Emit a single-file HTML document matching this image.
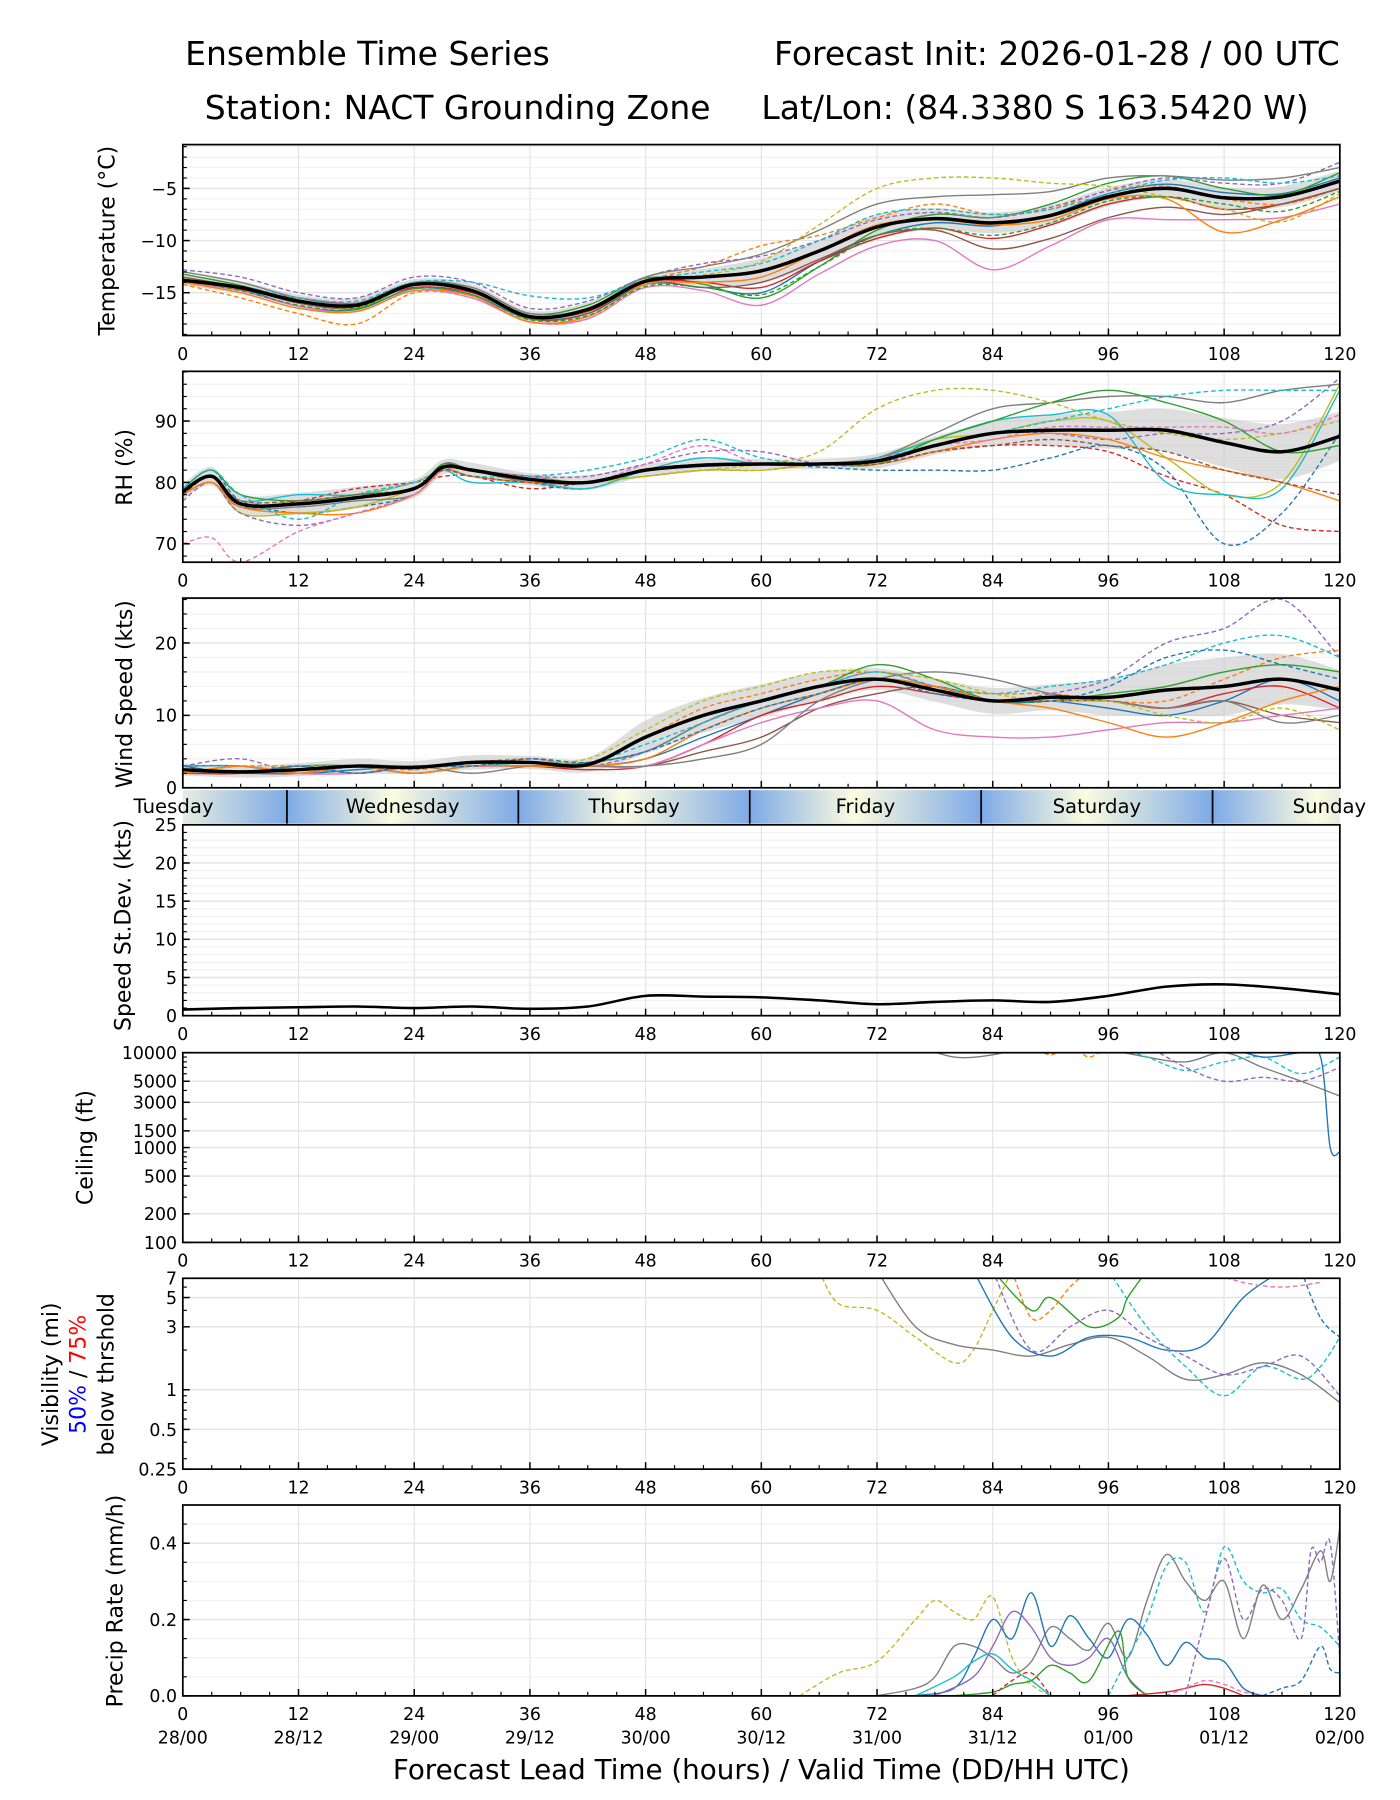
<!DOCTYPE html>
<html><head><meta charset="utf-8"><style>
html,body{margin:0;padding:0;background:#fff;}
svg{display:block;font-family:"DejaVu Sans","Liberation Sans",sans-serif;}
</style></head><body>
<svg id="chart" width="1400" height="1800" viewBox="0 0 1210 1556" preserveAspectRatio="none" xmlns="http://www.w3.org/2000/svg">
<defs>
<linearGradient id="dayg" x1="0" x2="1" y1="0" y2="0">
<stop offset="0" stop-color="#7eaae6"/><stop offset="0.45" stop-color="#fcfce0"/><stop offset="1" stop-color="#7eaae6"/>
</linearGradient>
</defs>
<g font-size="28.5" fill="#000">
<text x="160" y="56">Ensemble Time Series</text>
<text x="1158" y="56" text-anchor="end">Forecast Init: 2026-01-28 / 00 UTC</text>
<text x="177" y="103">Station: NACT Grounding Zone</text>
<text x="658" y="103">Lat/Lon: (84.3380 S 163.5420 W)</text>
</g>
<g id="layer"></g>
</svg>
<script>
// ---------- DATA ----------
const H6 = [0,6,12,18,24,30,36,42,48,54,60,66,72,78,84,90,96,102,108,114,120];
const tempMean = [-13.8,-14.5,-15.8,-16.2,-14.2,-14.8,-17.3,-16.6,-13.9,-13.5,-12.9,-11.0,-8.7,-7.9,-8.3,-7.6,-5.8,-5.0,-5.9,-5.8,-4.3];
const tempSpread = [0.5,0.6,0.6,0.7,0.5,0.6,0.6,0.7,0.5,0.8,1.2,1.1,1.2,1.0,1.0,1.0,0.9,0.9,1.0,1.0,1.0];
const tempMembers = [
[-13.5,-14.6,-16.3,-16.6,-14.6,-15.2,-17.5,-17.0,-14.2,-14.5,-15.0,-12.0,-9.5,-8.3,-8.6,-7.5,-5.5,-4.6,-5.4,-5.5,-4.0],
[-14.2,-15.5,-17.0,-18.0,-15.0,-15.5,-17.8,-17.5,-14.0,-12.5,-10.5,-9.5,-7.8,-6.5,-7.5,-7.0,-5.2,-4.8,-6.0,-6.5,-5.0],
[-13.2,-14.3,-15.7,-16.5,-14.2,-14.5,-17.0,-16.2,-13.6,-14.2,-15.5,-12.5,-9.0,-7.5,-7.8,-6.5,-4.5,-3.8,-5.0,-5.6,-3.5],
[-13.8,-14.7,-15.5,-16.0,-14.5,-15.0,-17.3,-16.8,-14.0,-14.0,-14.5,-12.0,-9.8,-8.8,-9.8,-8.5,-6.5,-5.8,-7.0,-6.5,-5.0],
[-12.8,-13.5,-15.0,-15.5,-13.5,-14.0,-16.5,-15.8,-13.5,-12.2,-11.5,-10.0,-8.0,-7.3,-7.8,-6.8,-5.2,-4.0,-4.5,-4.5,-2.5],
[-13.5,-14.5,-16.0,-16.4,-14.2,-14.7,-17.5,-17.0,-14.0,-14.5,-14.0,-11.8,-9.5,-9.0,-10.8,-9.8,-7.8,-6.8,-7.5,-6.5,-5.0],
[-14.0,-14.8,-16.3,-16.8,-14.8,-15.5,-17.8,-17.5,-14.5,-14.8,-16.2,-13.2,-10.5,-10.0,-12.8,-10.5,-8.0,-8.0,-8.0,-7.8,-6.5],
[-13.0,-14.0,-15.5,-16.0,-14.0,-14.5,-17.0,-16.5,-13.5,-12.5,-11.3,-9.0,-6.5,-5.8,-5.6,-5.3,-4.0,-3.8,-4.2,-4.0,-3.0],
[-13.6,-14.6,-15.8,-16.4,-14.3,-14.7,-17.2,-16.6,-13.8,-13.3,-12.0,-8.5,-5.0,-4.0,-4.0,-4.5,-4.8,-5.8,-7.0,-8.2,-5.5],
[-13.8,-14.4,-15.5,-15.8,-14.0,-14.0,-15.3,-15.5,-13.8,-13.0,-12.2,-10.0,-7.5,-7.0,-7.5,-7.0,-5.5,-4.2,-4.0,-4.5,-3.8],
[-14.0,-15.0,-16.5,-16.8,-14.8,-15.3,-17.8,-17.3,-14.2,-14.0,-13.5,-11.0,-8.5,-8.0,-8.5,-8.0,-6.0,-6.0,-9.2,-8.0,-5.8],
[-13.8,-14.8,-16.2,-16.6,-14.6,-15.2,-17.6,-17.2,-14.4,-14.5,-15.2,-12.5,-9.5,-8.8,-9.5,-8.3,-6.2,-5.8,-6.5,-7.2,-5.3]
];
const rhHours = [0,3,6,12,18,24,27,30,36,42,48,54,60,66,72,78,84,90,96,102,108,114,120];
const rhMean = [78.5,81,76.5,76.5,77.5,79,82.5,82,80.5,80,82,82.8,83,83,83.5,86,88,88.5,88.5,88.5,86.5,85,87.5];
const rhSpread = [1.2,1.5,1.5,1.8,1.8,1.5,1.2,1.2,1.0,1.2,1.0,1.0,0.8,0.8,1.2,1.5,2.0,2.5,3.0,3.5,4.0,4.5,4.0];
const rhMembers = [
[79,82,77,75,76,78,83,82,80,79,82,83,83,82.5,82,82,82,84,86,82,70,75,88],
[78,80,76,77,79,80,81,81,79,80,81,82,82,83,83,85,86,86,85,81,78,73,72],
[78,81,75,75,76,79,82,82,80,80,81,82,82,83,84,87,88,90,90,84,78,80,96],
[79,81,77,78,78,80,82,80,80,79,82,84,83,83,84,87,90,91,91,80,78,79,95],
[78,80,76,76,77,78,83,82,80,80,82,83,83,83,84,88,92,93,94,94,93,95,96],
[77,80,75,73,75,78,82,82,81,81,83,85,85,83,83,86,88,88,87,88,88,90,97],
[79,82,78,77,78,79,83,82,81,80,82,83,83,83,83,87,90,93,95,93,90,85,86],
[78,81,77,77,78,80,82,81,80,80,81,82,83,85,92,95,95,93,90,88,87,88,90],
[78,80,76,75,75,78,82,81,80,80,82,83,83,83,83,85,87,88,87,84,82,80,77],
[70,71,67,72,75,78,82,82,81,80,83,86,83,83,84,86,87,89,89,89,89,88,91],
[79,82,78,74,78,80,82,81,81,82,84,87,84,83,84,86,88,90,92,94,95,95,95],
[78,81,77,77,78,79,82,81,80,80,82,83,83,83,83,85,86,87,86,85,82,80,78]
];
const windMean = [2.5,2.2,2.5,3.0,2.8,3.5,3.5,3.2,7.0,10.0,12.0,14.0,15.0,13.5,12.0,12.5,12.5,13.5,14.0,15.0,13.5];
const windSpread = [0.8,0.8,0.9,1.0,0.9,1.0,0.9,1.0,2.3,2.4,2.3,2.0,1.5,1.6,1.8,1.8,2.5,3.5,4.0,3.5,2.8];
const windMembers = [
[3,3,2,2.5,3,3,3.5,3,4,7,10,13,15,14,12,12,11,10,12,15,12],
[2,3,3,3,2.5,3.5,4,3.5,7,11,13,15,16,14,13,13,12,12,15,18,19],
[3,2,3,3,2,3,3,3.5,5,9,12,14,17,15,12,12,13,14,16,17,16],
[2,2,3,2,3,3,3,2.5,3,6,10,12,14,13,12,12,12,11,13,14,11],
[3,4,2,3,3,3,4,3,5,9,12,14,16,14,12,13,15,20,22,26,18],
[2,2,2,3,2,3,3,3,3,5,7,11,13,14,12,12,12,11,12,10,9],
[2,3,2,2,3,3,3,3,3,6,9,11,12,8,7,7,8,9,9,10,11],
[3,2,3,2,3,2,3,3,3,4,6,12,15,16,15,13,12,11,12,9,10],
[2,3,3,3,3,3,3.5,4,8,12,14,16,16,15,13,12,12,10,9,11,8],
[3,3,2,3,3,3,3.5,3.5,6,9,12,14,16,14,13,14,15,17,20,21,18],
[2,3,2,3,2,3,3,3,4,8,11,13,15,14,12,11,9,7,9,12,14],
[3,2,3,2,3,3,4,3.5,5,8,11,13,15,13,12,12,14,18,19,17,15]
];
const stdevValues = [0.8,1.0,1.1,1.2,1.0,1.2,0.9,1.2,2.6,2.5,2.4,2.0,1.5,1.8,2.0,1.8,2.6,3.8,4.1,3.6,2.8];
const ceilHours = [[76,80,84,88,92,96,100,104,108,112,116,120],[96,100,104,108,112,116,120],[100,104,108,112,116,120],[108,112,116,118,119,120],[88,90,92,94,96]];
const ceilValues = [[12000,9000,9500,12000,15000,11000,9000,8000,10000,7000,5000,3500],[12000,9000,6500,8000,9000,6000,9000],[12000,7000,5000,5500,5000,7000],[12000,9000,10000,9000,1000,900],[12000,9500,12000,9000,12000]];
const visHours = [[66,68,72,76,80,82,84,86],[72,76,80,84,88,92,96,100,104,108,112,116,120],[82,86,90,94,98,102,106,110,114],[96,100,104,108,112,116,118,120],[84,88,92,96,100,104,108,112,116,120],[84,88,90,94,97,98,100],[86,88,90,92,94],[116,118,120],[106,110,114,118]];
const visValues = [[8,4.5,4,2.5,1.6,2,4,8],[8,3,2.2,2,1.8,2.2,2.5,1.8,1.2,1.3,1.6,1.3,0.8],[8,2.5,1.8,2.5,2.5,2,2.2,5,8],[8,3,1.5,0.9,1.5,1.2,1.5,2.5],[8,2,3,4,2.5,1.8,1.3,1.5,1.8,0.9],[8,4,5,3,3.5,5,8],[8,3.5,4,6,8],[8,3.5,2.5],[8,6.5,6,6.5]];
const precipHours = [[64,68,72,76,78,80,82,84,86,88,90],[72,76,78,80,82,84,86,88,90,92,94,96,98,100,102,104,106,108,110,112,114,116,118,119,120],[76,80,82,84,86,88,90,92,94,96,98,100,102,104,106,108,110,112],[78,82,84,86,88,90,92,94,96,98,100],[76,80,82,84,86,88,90],[80,84,86,88,90,92,94,97,98,100],[96,98,100,102,104,106,108,110,112,114,116,118,120],[104,106,108,110,112,114,116,117,118,119,120],[112,114,116,118,119,120],[98,102,104,106,108,110],[102,104,106,108,110,112],[84,86,88,90]];
const precipValues = [[0,0.06,0.09,0.2,0.25,0.22,0.2,0.26,0.1,0.03,0],[0,0.02,0.05,0.13,0.13,0.1,0.06,0.09,0.18,0.15,0.12,0.19,0.1,0.25,0.37,0.3,0.25,0.3,0.15,0.29,0.2,0.28,0.38,0.3,0.44],[0,0.02,0.1,0.2,0.15,0.27,0.13,0.21,0.15,0.1,0.2,0.16,0.08,0.14,0.1,0.09,0.02,0],[0,0.05,0.13,0.22,0.18,0.1,0.08,0.1,0.15,0.05,0],[0,0.05,0.09,0.11,0.07,0.04,0],[0,0.01,0.03,0.04,0.08,0.06,0.04,0.17,0.05,0],[0,0.1,0.2,0.34,0.35,0.22,0.39,0.3,0.27,0.28,0.2,0.18,0.13],[0,0.2,0.36,0.2,0.28,0.25,0.15,0.38,0.35,0.4,0.1],[0,0.02,0.04,0.13,0.07,0.06],[0,0.01,0.02,0.03,0.02,0],[0,0.02,0.04,0.03,0.01,0],[0,0.04,0.06,0]];
const xTicks = [0,12,24,36,48,60,72,84,96,108,120];
const dateLabels = ["28/00","28/12","29/00","29/12","30/00","30/12","31/00","31/12","01/00","01/12","02/00"];
const dayNames = ["Tuesday","Wednesday","Thursday","Friday","Saturday","Sunday"];
const dayBoundaries = [-13.2,10.8,34.8,58.8,82.8,106.8,130.8];

// ---------- STYLE ----------
const tempStyle = [["#1f77b4",0],["#ff7f0e",1],["#2ca02c",0],["#d62728",0],["#9467bd",1],["#8c564b",0],["#e377c2",0],["#7f7f7f",0],["#bcbd22",1],["#17becf",1],["#ff7f0e",0],["#2ca02c",1]];
const rhStyle = [["#1f77b4",1],["#d62728",1],["#bcbd22",0],["#17becf",0],["#7f7f7f",0],["#9467bd",1],["#2ca02c",0],["#bcbd22",1],["#ff7f0e",0],["#e377c2",1],["#17becf",1],["#8c564b",1]];
const windStyle = [["#1f77b4",0],["#ff7f0e",1],["#2ca02c",0],["#d62728",0],["#9467bd",1],["#8c564b",0],["#e377c2",0],["#7f7f7f",0],["#bcbd22",1],["#17becf",1],["#ff7f0e",0],["#1f77b4",1]];
const ceilStyle = [["#7f7f7f",0],["#17becf",1],["#9467bd",1],["#1f77b4",0],["#ff7f0e",1]];
const visStyle = [["#bcbd22",1],["#7f7f7f",0],["#1f77b4",0],["#17becf",1],["#9467bd",1],["#2ca02c",0],["#ff7f0e",1],["#1f77b4",1],["#e377c2",1]];
const precipStyle = [["#bcbd22",1],["#7f7f7f",0],["#1f77b4",0],["#9467bd",0],["#17becf",0],["#2ca02c",0],["#17becf",1],["#9467bd",1],["#1f77b4",1],["#d62728",0],["#e377c2",1],["#d62728",1]];

const NS="http://www.w3.org/2000/svg";
const layer=document.getElementById('layer');
const X0=158,X1=1158;
function xs(h){return X0+(h/120)*(X1-X0);}
function mk(tag,attrs,parent){const e=document.createElementNS(NS,tag);for(const k in attrs)e.setAttribute(k,attrs[k]);(parent||layer).appendChild(e);return e;}
function makeY(p){
  if(p.log){const a=Math.log10(p.min),b=Math.log10(p.max);return v=>p.bottom-(Math.log10(v)-a)/(b-a)*(p.bottom-p.top);}
  return v=>p.bottom-(v-p.min)/(p.max-p.min)*(p.bottom-p.top);
}
function smooth(pts){
  if(pts.length<2)return "";
  let d="M"+pts[0][0].toFixed(2)+","+pts[0][1].toFixed(2);
  for(let i=0;i<pts.length-1;i++){
    const p0=pts[i-1]||pts[i],p1=pts[i],p2=pts[i+1],p3=pts[i+2]||p2;
    const c1=[p1[0]+(p2[0]-p0[0])/6,p1[1]+(p2[1]-p0[1])/6];
    const c2=[p2[0]-(p3[0]-p1[0])/6,p2[1]-(p3[1]-p1[1])/6];
    d+="C"+c1[0].toFixed(2)+","+c1[1].toFixed(2)+" "+c2[0].toFixed(2)+","+c2[1].toFixed(2)+" "+p2[0].toFixed(2)+","+p2[1].toFixed(2);
  }
  return d;
}
let clipId=0;
function panel(p){
  const g=mk('g',{});
  
  
  const y=makeY(p);
  const cid='clip'+(clipId++);
  const cp=mk('clipPath',{id:cid},g);mk('rect',{x:X0,y:p.top,width:X1-X0,height:p.bottom-p.top},cp);
  (p.minor||[]).forEach(v=>{const yy=y(v);mk('line',{x1:X0,x2:X1,y1:yy,y2:yy,stroke:'#f1f1f1','stroke-width':1},g);});
  xTicks.forEach(h=>{mk('line',{x1:xs(h),x2:xs(h),y1:p.top,y2:p.bottom,stroke:'#e3e3e3','stroke-width':1},g);});
  p.ticks.forEach(v=>{const yy=y(v);mk('line',{x1:X0,x2:X1,y1:yy,y2:yy,stroke:'#e3e3e3','stroke-width':1.2},g);});
  const dg=mk('g',{'clip-path':'url(#'+cid+')'},g);
  p.g=dg;p.y=y;
  const fr=mk('rect',{x:X0,y:p.top,width:X1-X0,height:p.bottom-p.top,fill:'none',stroke:'#000','stroke-width':1.5},g);
  
  
  for(let h=0;h<=120;h+=3){const maj=h%12===0;const xx=xs(h);mk('line',{x1:xx,x2:xx,y1:p.bottom,y2:p.bottom-(maj?6:3.5),stroke:'#000','stroke-width':maj?1.3:1},g);}
  if(!p.noXLabels){
    const xl=mk('g',{'font-size':'15','text-anchor':'middle'},g);
    
    
    xTicks.forEach(h=>{const t=mk('text',{x:xs(h),y:p.bottom+21},xl);t.textContent=String(h);});
  }
  (p.minor||[]).concat(p.logMinor||[]).forEach(v=>{const yy=y(v);mk('line',{x1:X0,x2:X0+3.5,y1:yy,y2:yy,stroke:'#000','stroke-width':1},g);});
  const yl=mk('g',{'font-size':'15','text-anchor':'end'},g);
  
  
  p.ticks.forEach((v,i)=>{const yy=y(v);mk('line',{x1:X0,x2:X0+6,y1:yy,y2:yy,stroke:'#000','stroke-width':1.3},g);const t=mk('text',{x:X0-5,y:yy+5.5},yl);t.textContent=p.tickLabels[i];});
  return p;
}
function line(p,hours,vals,color,dashed,w,name){
  const pts=hours.map((h,i)=>[xs(h),p.y(vals[i])]);
  const e=mk('path',{d:smooth(pts),fill:'none',stroke:color,'stroke-width':w||1.2,'stroke-dasharray':dashed?'4,2.5':'none','stroke-linejoin':'round'},p.g);
  
  
  return e;
}
function band(p,hours,mean,spread,name){
  const up=hours.map((h,i)=>[xs(h),p.y(mean[i]+spread[i])]);
  const lo=hours.map((h,i)=>[xs(h),p.y(mean[i]-spread[i])]).reverse();
  const d=smooth(up)+"L"+smooth(lo).slice(1)+"Z";
  const e=mk('path',{d:d,fill:'#c8c8c8','fill-opacity':0.6,stroke:'none'},p.g);
  
  
}
function ylabel(x,y,lines){
  const t=mk('text',{x:x,y:y,'font-size':'19','text-anchor':'middle',transform:'rotate(-90 '+x+' '+y+')'});
  
  
  lines.forEach(s=>{const ts=mk('tspan',{fill:s[1]||'#000'},t);ts.textContent=s[0];});
  return t;
}
function range(a,b,s){const r=[];for(let v=a;v<=b+1e-9;v+=s)r.push(+v.toFixed(4));return r;}

const pT=panel({name:'temperature',top:125,bottom:290,min:-19.1,max:-0.8,ticks:[-5,-10,-15],tickLabels:['−5','−10','−15'],minor:range(-19,-1,1)});
band(pT,H6,tempMean,tempSpread,'temperature-spread-band');
tempMembers.forEach((m,i)=>line(pT,H6,m,tempStyle[i][0],tempStyle[i][1],1.2,'temperature-member-'+(i+1)));
line(pT,H6,tempMean,'#000',0,3,'temperature-ensemble-mean');
ylabel(99,208,[['Temperature (°C)']]);

const pR=panel({name:'rh',top:321,bottom:486,min:67,max:98.1,ticks:[70,80,90],tickLabels:['70','80','90'],minor:range(68,98,2)});
band(pR,rhHours,rhMean,rhSpread,'rh-spread-band');
rhMembers.forEach((m,i)=>line(pR,rhHours,m,rhStyle[i][0],rhStyle[i][1],1.2,'rh-member-'+(i+1)));
line(pR,rhHours,rhMean,'#000',0,3,'rh-ensemble-mean');
ylabel(114,404,[['RH (%)']]);

const pW=panel({name:'wind-speed',top:517,bottom:681,min:0,max:26.2,ticks:[0,10,20],tickLabels:['0','10','20'],minor:range(2,26,2),noXLabels:true});
band(pW,H6,windMean,windSpread,'wind-spread-band');
windMembers.forEach((m,i)=>line(pW,H6,m,windStyle[i][0],windStyle[i][1],1.2,'wind-member-'+(i+1)));
line(pW,H6,windMean,'#000',0,3,'wind-ensemble-mean');
ylabel(114,600,[['Wind Speed (kts)']]);

(function(){
  const g=mk('g',{});
  
  
  const cp=mk('clipPath',{id:'dayclip'},g);mk('rect',{x:X0,y:683,width:X1-X0,height:29},cp);
  const gg=mk('g',{'clip-path':'url(#dayclip)'},g);
  for(let i=0;i<dayNames.length;i++){
    const a=xs(dayBoundaries[i]),b=xs(dayBoundaries[i+1]);
    mk('rect',{x:a,y:683,width:b-a,height:29,fill:'url(#dayg)'},gg);
  }
  for(let i=1;i<dayNames.length;i++){const xx=xs(dayBoundaries[i]);mk('line',{x1:xx,x2:xx,y1:683,y2:712,stroke:'#000','stroke-width':1.5},g);}
  dayNames.forEach((n,i)=>{
    const c=i===0?150:(i===dayNames.length-1?1149:(xs(dayBoundaries[i])+xs(dayBoundaries[i+1]))/2);
    const t=mk('text',{x:c,y:703,'font-size':'17','text-anchor':'middle'},g);t.textContent=n;
    
    
  });
})();

const pS=panel({name:'speed-stdev',top:713,bottom:878,min:0,max:25,ticks:[0,5,10,15,20,25],tickLabels:['0','5','10','15','20','25'],minor:range(1,24,1)});
line(pS,H6,stdevValues,'#000',0,2.2,'speed-stdev-line');
ylabel(113,800,[['Speed St.Dev. (kts)']]);

const pC=panel({name:'ceiling',top:910,bottom:1074,min:100,max:10000,log:true,ticks:[10000,5000,3000,1500,1000,500,200,100],tickLabels:['10000','5000','3000','1500','1000','500','200','100'],minor:[],logMinor:[300,400,600,700,800,900,2000,4000,6000,7000,8000,9000]});
ceilHours.forEach((h,i)=>line(pC,h,ceilValues[i],ceilStyle[i][0],ceilStyle[i][1],1.2,'ceiling-member-'+(i+1)));
ylabel(80,992,[['Ceiling (ft)']]);

const pV=panel({name:'visibility',top:1105,bottom:1270,min:0.25,max:7,log:true,ticks:[7,5,3,1,0.5,0.25],tickLabels:['7','5','3','1','0.5','0.25'],minor:[],logMinor:[0.3,0.4,0.6,0.7,0.8,0.9,2,4,6]});
visHours.forEach((h,i)=>line(pV,h,visValues[i],visStyle[i][0],visStyle[i][1],1.2,'visibility-member-'+(i+1)));
ylabel(50,1188,[['Visibility (mi)']]);
ylabel(74,1188,[['50%','#0000ff'],[' / '],['75%','#ff0000']]);
ylabel(98,1188,[['below thrshold']]);

const pP=panel({name:'precip-rate',top:1301,bottom:1466,min:0,max:0.5,ticks:[0,0.2,0.4],tickLabels:['0.0','0.2','0.4'],minor:range(0.05,0.45,0.05)});
precipHours.forEach((h,i)=>line(pP,h,precipValues[i].map(v=>Math.max(v,0.0005)),precipStyle[i][0],precipStyle[i][1],1.2,'precip-member-'+(i+1)));
ylabel(106,1384,[['Precip Rate (mm/h)']]);

const dl=mk('g',{'font-size':'15','text-anchor':'middle'});


xTicks.forEach((h,i)=>{const t=mk('text',{x:xs(h),y:1507},dl);t.textContent=dateLabels[i];});
const xt=mk('text',{x:658,y:1538,'font-size':'24','text-anchor':'middle'});
xt.textContent='Forecast Lead Time (hours) / Valid Time (DD/HH UTC)';


</script>
</body></html>
